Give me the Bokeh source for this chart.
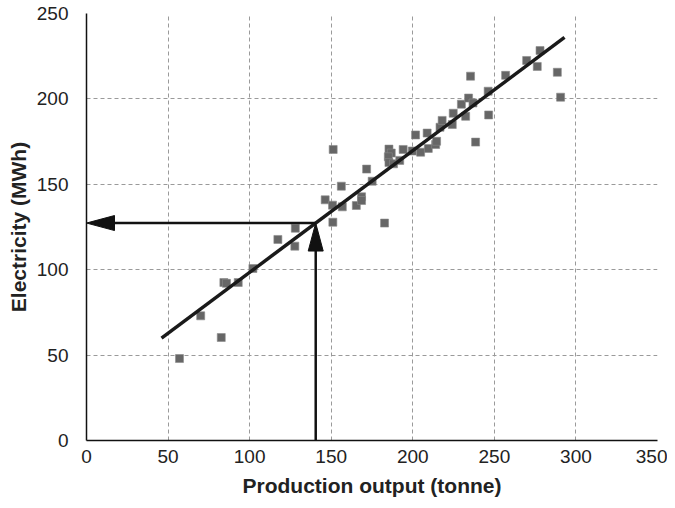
from bokeh.plotting import figure
from bokeh.models import ColumnDataSource, Range1d, FixedTicker
from bokeh.embed import file_html
from bokeh.resources import INLINE

# data: production output (tonne) vs electricity (MWh)
output_t = [57, 70, 82.6, 84.2, 85.8, 93, 102, 117.3, 128, 127.7,
            146.3, 150.8, 151, 151.2, 156.2, 156.8, 165.4, 168.6, 168.6, 171.7,
            175.1, 182.7, 185.4, 186.8, 185, 185.4, 188.2, 192, 194.1, 199.7,
            201.7, 204.8, 208.8, 209.5, 214, 214.6, 216.7, 218, 224.2, 224.8,
            229.8, 232.4, 234.2, 235.4, 236.9, 238.5, 246.2, 246.5, 256.9, 269.8,
            276.3, 278, 288.6, 290.6]
electricity_mwh = [48, 73, 60.3, 92.5, 92, 92.5, 100.7, 117.7, 124.3, 113.8,
                   140.9, 137.8, 127.8, 170.4, 148.9, 136.8, 137.6, 142.7, 140.5, 158.9,
                   151.8, 127.3, 170.6, 168.3, 166.1, 162.7, 162, 164, 170.4, 169.5,
                   178.9, 168.8, 180, 171, 173.3, 175.2, 183.4, 187.4, 185, 191.6,
                   196.9, 189.8, 200.5, 213.3, 197.6, 174.7, 204.5, 190.6, 213.8, 222.5,
                   219, 228.3, 215.6, 201]

fit_x_ends = [46, 293]
fit_intercept = 27.2
fit_slope = 0.7126
reading_x = 140.5

x_ticks = [0, 50, 100, 150, 200, 250, 300, 350]
y_ticks = [0, 50, 100, 150, 200, 250]

p = figure(width=667, height=500, output_backend="svg", toolbar_location=None,
           x_range=Range1d(0, 350), y_range=Range1d(0, 250),
           min_border_left=86, min_border_right=10, min_border_top=13, min_border_bottom=60)
p.outline_line_color = None
p.background_fill_color = "white"

for ax, ticks in ((p.xaxis, x_ticks), (p.yaxis, y_ticks)):
    ax.ticker = FixedTicker(ticks=ticks)
    ax.major_tick_line_color = None
    ax.minor_tick_line_color = None
    ax.axis_line_color = "#111111"
    ax.axis_line_width = 1.5
    ax.major_label_text_font = "Liberation Sans"
    ax.major_label_text_font_size = "19px"
    ax.major_label_text_color = "#222222"
    ax.axis_label_text_font = "Liberation Sans"
    ax.axis_label_text_font_style = "bold"
    ax.axis_label_text_font_size = "21px"
    ax.axis_label_text_color = "#222222"

p.xaxis.axis_label = "Production output (tonne)"
p.yaxis.axis_label = "Electricity (MWh)"
p.xaxis.major_label_standoff = 3
p.yaxis.major_label_standoff = 12
p.xaxis.axis_label_standoff = 8
p.yaxis.axis_label_standoff = 4

for g in (p.xgrid, p.ygrid):
    g.grid_line_color = "#9a9a9a"
    g.grid_line_dash = "4 3"
    g.grid_line_width = 1

src = ColumnDataSource(dict(x=output_t, y=electricity_mwh))
p.scatter("x", "y", source=src, marker="square", size=8,
          fill_color="#666666", line_color="#8a8a8a", line_width=0.6)

# regression line
fit_y_ends = [fit_intercept + fit_slope * x for x in fit_x_ends]
p.line(fit_x_ends, fit_y_ends, line_color="#1a1a1a", line_width=3.5)

# reading arrows
reading_y = fit_intercept + fit_slope * reading_x
xs_per_px = 350 / 571.0
ys_per_px = 250 / 427.0
head_len = 28
head_half = 7.5

p.line([head_len * 0.8 * xs_per_px, reading_x], [reading_y, reading_y],
       line_color="#111111", line_width=2.5)
p.line([reading_x, reading_x], [0, reading_y - head_len * 0.8 * ys_per_px],
       line_color="#111111", line_width=2.5)

hx = [0, head_len * xs_per_px, head_len * xs_per_px]
hy = [reading_y, reading_y + head_half * ys_per_px, reading_y - head_half * ys_per_px]
vx = [reading_x, reading_x - head_half * xs_per_px, reading_x + head_half * xs_per_px]
vy = [reading_y, reading_y - head_len * ys_per_px, reading_y - head_len * ys_per_px]
p.patches([hx, vx], [hy, vy], fill_color="#111111", line_color="#111111", line_width=1)

open("out.html", "w").write(file_html(p, INLINE))
